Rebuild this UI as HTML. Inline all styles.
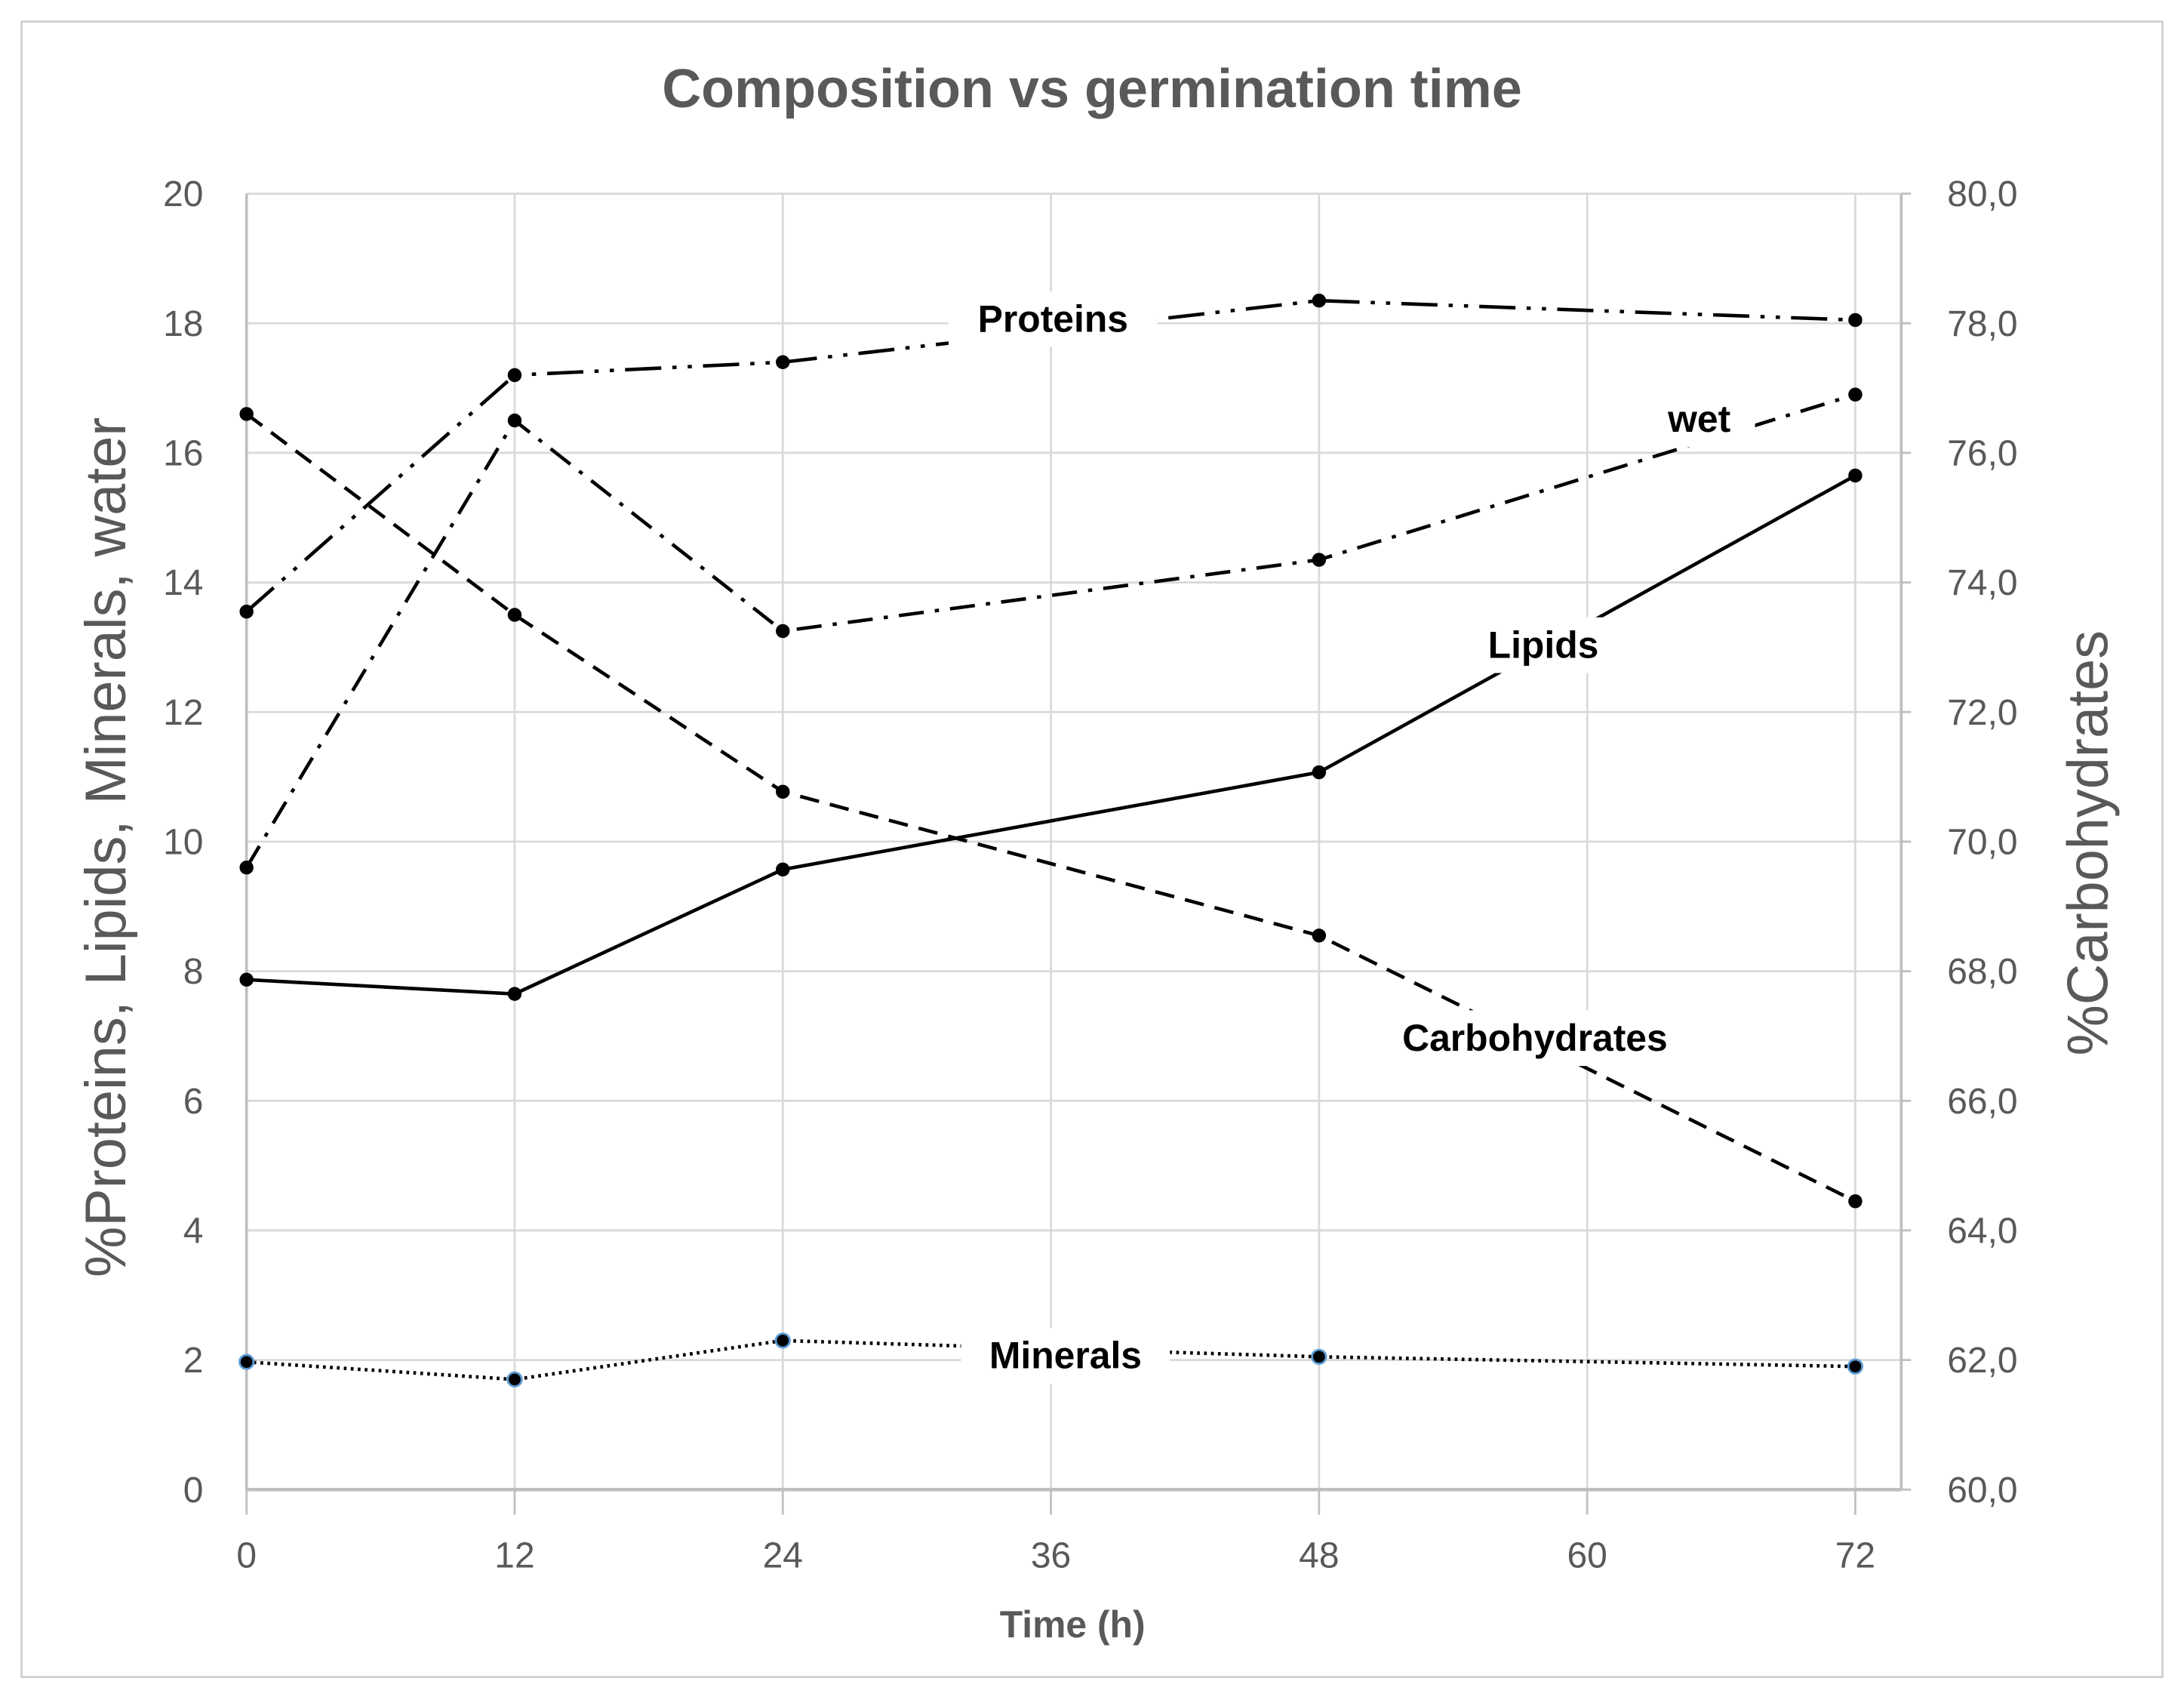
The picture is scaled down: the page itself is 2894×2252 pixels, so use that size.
<!DOCTYPE html>
<html><head><meta charset="utf-8"><style>
html,body{margin:0;padding:0;background:#fff;}
svg{display:block;}
text{font-family:"Liberation Sans",sans-serif;}
</style></head><body>
<svg id="chart" width="2894" height="2252" viewBox="0 0 1568 1220" preserveAspectRatio="none" xmlns="http://www.w3.org/2000/svg">
<rect x="0" y="0" width="1568" height="1220" fill="#fff"/>
<rect x="15.5" y="15.5" width="1537" height="1188" fill="none" stroke="#d0d0d0" stroke-width="1.5"/>
<text x="784" y="77" text-anchor="middle" font-size="39" font-weight="bold" fill="#595959">Composition vs germination time</text>
<g id="grid"></g>
<g id="axes"></g>
<g id="series"></g>
<g id="labels"></g>
<text x="770" y="1175" text-anchor="middle" font-size="27" font-weight="bold" fill="#595959">Time (h)</text>
<text transform="translate(90,608) rotate(-90)" text-anchor="middle" font-size="41" fill="#595959">%Proteins, Lipids, Minerals, water</text>
<text transform="translate(1513,605) rotate(-90)" text-anchor="middle" font-size="41" fill="#595959">%Carbohydrates</text>
</svg>
<script>
const times = [0, 12, 24, 48, 72];
const xTicks = [0, 12, 24, 36, 48, 60, 72];
const leftTicks = [0, 2, 4, 6, 8, 10, 12, 14, 16, 18, 20];
const rightTicks = [60, 62, 64, 66, 68, 70, 72, 74, 76, 78, 80];
const proteins = [13.55, 17.2, 17.4, 18.35, 18.05];
const wet = [9.6, 16.5, 13.25, 14.35, 16.9];
const lipids = [7.87, 7.65, 9.57, 11.07, 15.65];
const minerals = [1.97, 1.7, 2.3, 2.05, 1.9];
const carbohydrates = [76.6, 73.5, 70.77, 68.55, 64.45];

const NS = "http://www.w3.org/2000/svg";
const X0 = 177, X72 = 1332, PR = 1365, YB = 1069, YT = 139;
const xS = t => X0 + (t / 72) * (X72 - X0);
const yL = v => YB - (v / 20) * (YB - YT);
const yR = v => YB - ((v - 60) / 20) * (YB - YT);
function mk(tag, attrs, parent) {
  const e = document.createElementNS(NS, tag);
  for (const k in attrs) e.setAttribute(k, attrs[k]);
  parent.appendChild(e);
  return e;
}
const grid = document.getElementById('grid');
const axes = document.getElementById('axes');
leftTicks.forEach((v, i) => {
  const y = yL(v);
  if (i > 0) {
    const l = mk('line', {x1: X0, x2: PR, y1: y, y2: y, stroke: '#d9d9d9', 'stroke-width': 1.5}, grid);
    
    
  }
  const t = mk('text', {x: 146, y: y + 9, 'text-anchor': 'end', 'font-size': 26, fill: '#595959'}, axes);
  t.textContent = v;
  
  
});
rightTicks.forEach(v => {
  const y = yR(v);
  const t = mk('text', {x: 1398, y: y + 9, 'text-anchor': 'start', 'font-size': 26, fill: '#595959'}, axes);
  t.textContent = v.toFixed(1).replace('.', ',');
  
  
  const tk = mk('line', {x1: PR, x2: PR + 7, y1: y, y2: y, stroke: '#bfbfbf', 'stroke-width': 1.5}, axes);
  
  
});
xTicks.forEach(v => {
  const x = xS(v);
  if (v > 0) {
    const l = mk('line', {x1: x, x2: x, y1: YT, y2: YB, stroke: '#d9d9d9', 'stroke-width': 1.5}, grid);
    
    
  }
  const tk = mk('line', {x1: x, x2: x, y1: YB, y2: YB + 18, stroke: '#bfbfbf', 'stroke-width': 1.5}, axes);
  
  
  const t = mk('text', {x: x, y: YB + 56, 'text-anchor': 'middle', 'font-size': 26, fill: '#595959'}, axes);
  t.textContent = v;
  
  
});
const ax1 = mk('line', {x1: X0, x2: X0, y1: YT, y2: YB, stroke: '#bfbfbf', 'stroke-width': 2}, axes);


const ax2 = mk('line', {x1: PR, x2: PR, y1: YT, y2: YB, stroke: '#bfbfbf', 'stroke-width': 2}, axes);


const ax3 = mk('line', {x1: X0, x2: PR, y1: YB, y2: YB, stroke: '#bfbfbf', 'stroke-width': 2.5}, axes);



const ser = document.getElementById('series');
function drawSeries(name, vals, yf, dash, markerStroke) {
  const g = mk('g', {}, ser);
  
  
  const pts = vals.map((v, i) => xS(times[i]) + ',' + yf(v)).join(' ');
  const pl = mk('polyline', {points: pts, fill: 'none', stroke: '#000', 'stroke-width': 2.5, 'stroke-dasharray': dash}, g);
  
  
  vals.forEach((v, i) => {
    const c = mk('circle', {cx: xS(times[i]), cy: yf(v), r: 5, fill: '#000', stroke: markerStroke, 'stroke-width': markerStroke === 'none' ? 0 : 1.5}, g);
    
    
  });
}
drawSeries('proteins', proteins, yL, '26,8,3,8,3,8', 'none');
drawSeries('wet', wet, yL, '18,8,3,8', 'none');
drawSeries('lipids', lipids, yL, 'none', 'none');
drawSeries('minerals', minerals, yL, '2,3', '#5b9bd5');
drawSeries('carbohydrates', carbohydrates, yR, '14,8', 'none');

const lab = document.getElementById('labels');
function label(name, text, cx, cy, w) {
  const r = mk('rect', {x: cx - w / 2, y: cy - 20, width: w, height: 40, fill: '#fff'}, lab);
  
  
  const t = mk('text', {x: cx, y: cy + 9, 'text-anchor': 'middle', 'font-size': 27, 'font-weight': 'bold', fill: '#000'}, lab);
  t.textContent = text;
  
  
}
label('proteins', 'Proteins', 756, 229, 150);
label('wet', 'wet', 1220, 301, 80);
label('lipids', 'Lipids', 1108, 463, 100);
label('carbohydrates', 'Carbohydrates', 1102, 745, 230);
label('minerals', 'Minerals', 765, 973, 150);
</script>
</body></html>
